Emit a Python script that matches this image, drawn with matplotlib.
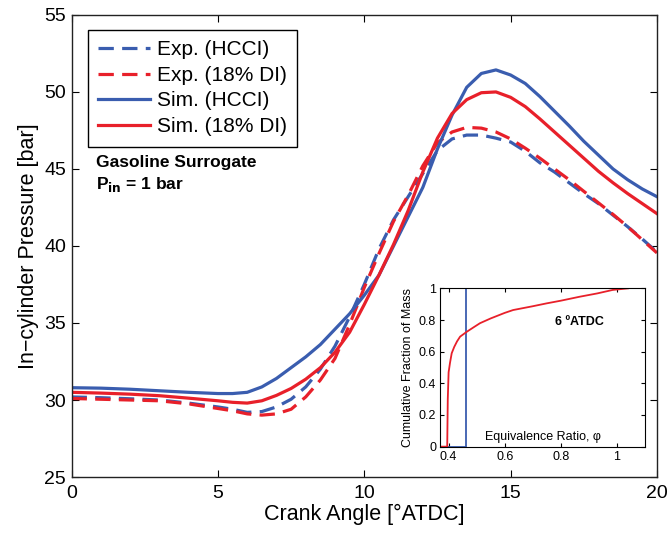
import matplotlib
matplotlib.use('Agg')
import matplotlib.pyplot as plt
import numpy as np

plt.rcParams['font.family'] = ['Liberation Sans', 'DejaVu Sans']

# crank angle grid [deg ATDC]
ca = [0, 1, 2, 3, 4, 5, 5.5, 6, 6.5, 7, 7.5, 8, 8.5, 9, 9.5, 10, 10.5, 11, 11.5,
      12, 12.5, 13, 13.5, 14, 14.5, 15, 15.5, 16, 16.5, 17, 17.5, 18, 18.5, 19, 19.5, 20]

exp_hcci = [30.2, 30.15, 30.08, 30.0, 29.8, 29.55, 29.4, 29.2, 29.25, 29.55, 30.05, 30.85,
            32.0, 33.5, 35.4, 37.5, 39.8, 41.7, 43.2, 44.7, 46.2, 46.95, 47.2, 47.2, 47.0,
            46.75, 46.15, 45.4, 44.8, 44.1, 43.4, 42.75, 42.0, 41.25, 40.45, 39.6]
exp_di = [30.1, 30.05, 30.0, 29.95, 29.75, 29.45, 29.3, 29.1, 29.02, 29.1, 29.4, 30.2,
          31.3, 32.7, 34.9, 37.3, 39.5, 41.6, 43.3, 45.2, 46.7, 47.4, 47.7, 47.65, 47.4,
          46.95, 46.35, 45.7, 45.0, 44.3, 43.55, 42.8, 42.05, 41.25, 40.4, 39.55]
sim_hcci = [30.8, 30.77, 30.7, 30.6, 30.5, 30.42, 30.42, 30.5, 30.85, 31.4, 32.1, 32.8,
            33.6, 34.6, 35.6, 36.8, 38.1, 40.0, 41.9, 43.8, 46.3, 48.5, 50.3, 51.2, 51.43,
            51.1, 50.55, 49.7, 48.75, 47.8, 46.8, 45.9, 45.0, 44.3, 43.7, 43.2]
sim_di = [30.5, 30.45, 30.38, 30.28, 30.12, 29.95, 29.85, 29.8, 29.95, 30.3, 30.75, 31.35,
          32.1, 33.1, 34.4, 36.2, 38.1, 40.1, 42.3, 44.8, 47.0, 48.6, 49.5, 49.95, 50.0,
          49.65, 49.05, 48.25, 47.4, 46.55, 45.7, 44.85, 44.1, 43.4, 42.75, 42.1]

# inset: cumulative mass fraction vs equivalence ratio at 6 deg ATDC
phi_di = [0.37, 0.395, 0.397, 0.40, 0.405, 0.411, 0.42, 0.43, 0.441, 0.465, 0.49, 0.512,
          0.55, 0.6, 0.63, 0.7, 0.749, 0.8, 0.867, 0.93, 0.985, 1.04]
cdf_di = [0, 0, 0.3, 0.47, 0.53, 0.59, 0.63, 0.665, 0.695, 0.726, 0.755, 0.78,
          0.81, 0.845, 0.863, 0.887, 0.905, 0.922, 0.947, 0.968, 0.99, 1.0]
phi_hcci = [0.37, 0.462, 0.462, 1.1]
cdf_hcci = [0, 0, 1, 1]

blue = '#3a5daf'
red = '#e8202a'

fig = plt.figure(figsize=(6.69, 5.33), dpi=100)
ax = fig.add_axes([0.107, 0.105, 0.875, 0.867])

lw = 2.3
ax.plot(ca, exp_hcci, color=blue, lw=lw, dashes=(4.8, 2.6), label='Exp. (HCCI)')
ax.plot(ca, exp_di, color=red, lw=lw, dashes=(4.8, 2.6), label='Exp. (18% DI)')
ax.plot(ca, sim_hcci, color=blue, lw=lw, label='Sim. (HCCI)')
ax.plot(ca, sim_di, color=red, lw=lw, label='Sim. (18% DI)')

ax.set_xlim(0, 20)
ax.set_ylim(25, 55)
ax.set_xticks([0, 5, 10, 15, 20])
ax.set_yticks([25, 30, 35, 40, 45, 50, 55])
ax.tick_params(direction='in', top=True, right=True, length=5, labelsize=14)
ax.tick_params(axis='x', pad=6)
ax.tick_params(axis='y', pad=4)
ax.set_xlabel('Crank Angle [°ATDC]', fontsize=15.5, labelpad=1)
ax.set_ylabel('In\u2212cylinder Pressure [bar]', fontsize=15.5, labelpad=4)
for s in ax.spines.values():
    s.set_linewidth(1.0)
    s.set_color('#222222')

leg = ax.legend(loc='upper left', bbox_to_anchor=(0.028, 0.968), borderaxespad=0,
                fontsize=15, handlelength=2.5, handletextpad=0.3, labelspacing=0.32,
                borderpad=0.5, fancybox=False, framealpha=1)
leg.get_frame().set_edgecolor('black')
leg.get_frame().set_linewidth(1.0)

ax.text(0.042, 0.680, 'Gasoline Surrogate', transform=ax.transAxes, fontsize=12.5,
        fontweight='bold', va='center')
ax.text(0.042, 0.632, r'P$_{\mathbf{in}}$ = 1 bar', transform=ax.transAxes, fontsize=12.5,
        fontweight='bold', va='center')

# inset
ins = fig.add_axes([0.658, 0.162, 0.306, 0.297])
ins.plot(phi_hcci, cdf_hcci, color=blue, lw=1.3)
ins.plot(phi_di, cdf_di, color=red, lw=1.3)
ins.set_xlim(0.37, 1.1)
ins.set_ylim(0, 1)
ins.set_xticks([0.4, 0.6, 0.8, 1.0])
ins.set_xticklabels(['0.4', '0.6', '0.8', '1'])
ins.set_yticks([0, 0.2, 0.4, 0.6, 0.8, 1.0])
ins.set_yticklabels(['0', '0.2', '0.4', '0.6', '0.8', '1'])
ins.tick_params(direction='in', top=True, right=True, length=3, labelsize=9, pad=3)
ins.set_ylabel('Cumulative Fraction of Mass', fontsize=9, labelpad=3)
ins.text(0.5, 0.06, 'Equivalence Ratio, \u03c6', transform=ins.transAxes, fontsize=9,
         ha='center', va='center')
ins.text(0.68, 0.79, '6 ºATDC', transform=ins.transAxes, fontsize=9,
         fontweight='bold', ha='center', va='center')

fig.savefig('out.png', dpi=100)
